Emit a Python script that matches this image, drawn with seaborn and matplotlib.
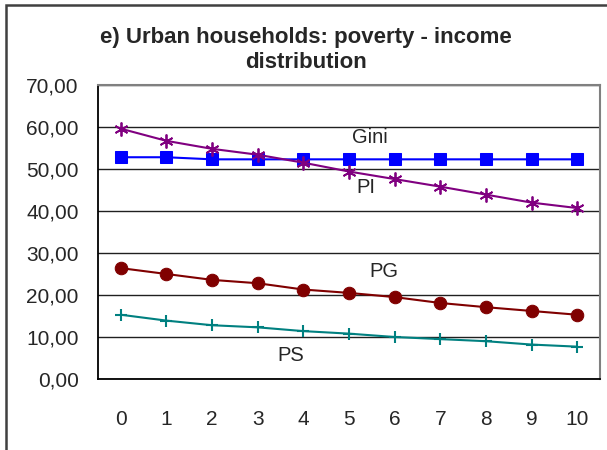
import pandas as pd
import matplotlib.pyplot as plt
import matplotlib.patches as mpatches
import numpy as np
import seaborn as sns

# values
steps = list(range(11))
gini = [52.8, 52.8, 52.3, 52.3, 52.3, 52.3, 52.3, 52.3, 52.3, 52.3, 52.3]
pi = [59.6, 56.7, 54.8, 53.4, 51.5, 49.4, 47.6, 45.8, 43.9, 42.0, 40.7]
pg = [26.4, 25.0, 23.6, 22.8, 21.3, 20.5, 19.5, 18.1, 17.1, 16.2, 15.3]
ps = [15.3, 13.9, 12.8, 12.3, 11.4, 10.8, 10.0, 9.5, 9.0, 8.2, 7.7]

df = pd.DataFrame({'step': steps, 'Gini': gini, 'PI': pi, 'PG': pg, 'PS': ps})

sns.set_style("white")
plt.rcParams['font.family'] = ['Liberation Sans', 'DejaVu Sans']

fig = plt.figure(figsize=(6.07, 4.5), dpi=100)
ax = fig.add_axes([98/607, 71/450, 502/607, 294/450])

# outer chart border
fig.patches.append(mpatches.Rectangle((6/607, -0.1), 1.2, (445/450) + 0.1,
                                      transform=fig.transFigure, fill=False,
                                      edgecolor='#404040', linewidth=1.8))

sns.lineplot(data=df, x='step', y='Gini', ax=ax, color='#0000FF', marker='s',
             markersize=8.5, markeredgecolor='#0000FF', linewidth=1.5)
sns.lineplot(data=df, x='step', y='PI', ax=ax, color='#800080', marker=(6, 2, 0),
             markersize=10, markeredgecolor='#800080', markeredgewidth=1.3, linewidth=1.5)
sns.lineplot(data=df, x='step', y='PG', ax=ax, color='#800000', marker='o',
             markersize=9, markeredgecolor='#800000', linewidth=1.5)
sns.lineplot(data=df, x='step', y='PS', ax=ax, color='#008080', marker='+',
             markersize=9, markeredgecolor='#008080', markeredgewidth=1.5, linewidth=1.5)

ax.set_xlim(-0.5, 10.5)
ax.set_ylim(0, 70)
ax.set_yticks(np.arange(0, 71, 10))
ax.set_yticklabels([f'{v:.2f}'.replace('.', ',') for v in np.arange(0, 71, 10)])
ax.set_xticks(steps)
ax.set_xticks(np.arange(-0.5, 11, 1), minor=True)
ax.tick_params(axis='x', which='major', length=0, pad=22, labelsize=15)
ax.tick_params(axis='x', which='minor', length=5, width=1.2, direction='out', color='black')
ax.tick_params(axis='y', length=5, width=1.2, direction='out', pad=9, labelsize=15, color='black')
ax.grid(axis='y', color='#202020', linewidth=1)
ax.set_axisbelow(True)
ax.set_xlabel('')
ax.set_ylabel('')

for side in ['left', 'bottom']:
    ax.spines[side].set_color('black')
    ax.spines[side].set_linewidth(1.3)
for side in ['top', 'right']:
    ax.spines[side].set_color('#808080')
    ax.spines[side].set_linewidth(1.5)

# series labels
ax.text(5.46, 57.6, 'Gini', ha='center', va='center', fontsize=14.5)
ax.text(5.37, 45.7, 'PI', ha='center', va='center', fontsize=14.5)
ax.text(5.77, 25.5, 'PG', ha='center', va='center', fontsize=14.5)
ax.text(3.73, 5.5, 'PS', ha='center', va='center', fontsize=14.5)

fig.text(306/607, 1 - 38/450, 'e) Urban households: poverty - income', ha='center', va='center',
         fontsize=16, fontweight='bold')
fig.text(306/607, 1 - 63/450, 'distribution', ha='center', va='center',
         fontsize=16, fontweight='bold')

plt.savefig('out.png', dpi=100)
